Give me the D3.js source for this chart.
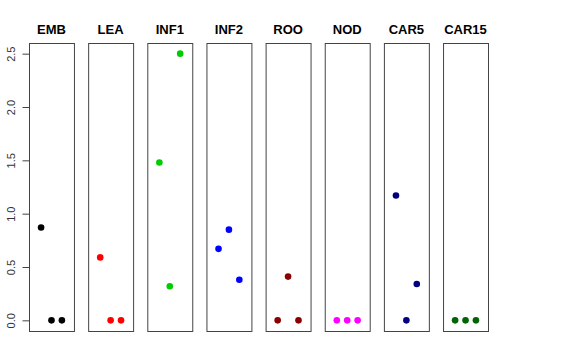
<!DOCTYPE html>
<html>
<head>
<meta charset="utf-8">
<script src="https://cdn.jsdelivr.net/npm/d3@7"></script>
<style>
  body { margin: 0; background: white; }
  text { font-family: "Liberation Sans", Arial, Helvetica, sans-serif; }
</style>
</head>
<body>
<div id="chart"></div>
<script>
// tissues (one panel each) and their three replicate values
var tissues = ["EMB", "LEA", "INF1", "INF2", "ROO", "NOD", "CAR5", "CAR15"];
var rep1 = [0.87, 0.59, 1.48, 0.67, 0.00, 0.00, 1.17, 0.00];
var rep2 = [0.00, 0.00, 0.32, 0.85, 0.41, 0.00, 0.00, 0.00];
var rep3 = [0.00, 0.00, 2.50, 0.38, 0.00, 0.00, 0.34, 0.00];
var colors = ["black", "red", "#00cd00", "blue", "#8b0000", "magenta", "#000080", "#006400"];
var yTicks = [0, 0.5, 1, 1.5, 2, 2.5];

var width = 576,
    height = 360,
    plotTop = 43,
    plotBottom = 331;

var svg = d3.select("#chart").append("svg")
    .attr("width", width)
    .attr("height", height);

// panels
var panel = d3.scaleBand()
    .domain(tissues)
    .range([29, 488])
    .paddingInner(0.24);

// shared y scale, R style 4% padding
var ymax = 2.5;
var y = d3.scaleLinear()
    .domain([-0.04 * ymax, ymax * 1.04])
    .range([plotBottom, plotTop]);

// x positions 1..3 inside each panel
var x = d3.scaleLinear()
    .domain([0 - 0.16, 4 + 0.16])
    .range([0, panel.bandwidth()]);

var data = tissues.map(function (t, i) {
    return {name: t, color: colors[i], values: [rep1[i], rep2[i], rep3[i]]};
});

var groups = svg.selectAll(".panel")
    .data(data)
    .enter()
    .append("g")
    .attr("class", "panel")
    .attr("transform", function (d) {
        return "translate(" + panel(d.name) + ",0)";
    });

groups.append("rect")
    .attr("x", 0.5)
    .attr("y", plotTop + 0.5)
    .attr("width", panel.bandwidth())
    .attr("height", plotBottom - plotTop)
    .attr("fill", "none")
    .attr("stroke", "#444")
    .attr("stroke-width", 1);

groups.append("text")
    .attr("x", panel.bandwidth() / 2)
    .attr("y", 34)
    .attr("text-anchor", "middle")
    .attr("font-size", "13px")
    .attr("font-weight", "bold")
    .text(function (d) { return d.name; });

groups.selectAll("circle")
    .data(function (d) {
        return d.values.map(function (v, j) { return {v: v, j: j + 1, color: d.color}; });
    })
    .enter()
    .append("circle")
    .attr("cx", function (d) { return x(d.j); })
    .attr("cy", function (d) { return y(d.v); })
    .attr("r", 3.3)
    .attr("fill", function (d) { return d.color; });

// y axis on the first panel
var axis = d3.axisLeft(y)
    .tickValues(yTicks)
    .tickSize(7)
    .tickPadding(4)
    .tickFormat(d3.format(".1f"));

var ax = svg.append("g")
    .attr("transform", "translate(" + (panel(tissues[0]) + 0.5) + ",0)")
    .call(axis);

ax.select(".domain")
    .attr("d", "M0," + y(0) + "V" + y(ymax))
    .attr("stroke", "#444");
ax.selectAll(".tick line").attr("stroke", "#444");
ax.selectAll(".tick text")
    .attr("font-size", "11px")
    .attr("font-family", "Liberation Sans, Arial, sans-serif")
    .attr("fill", "#333")
    .attr("text-anchor", "middle")
    .attr("dy", null)
    .attr("x", null)
    .attr("transform", "translate(-19,0) rotate(-90)")
    .attr("dominant-baseline", "central");
</script>
</body>
</html>
